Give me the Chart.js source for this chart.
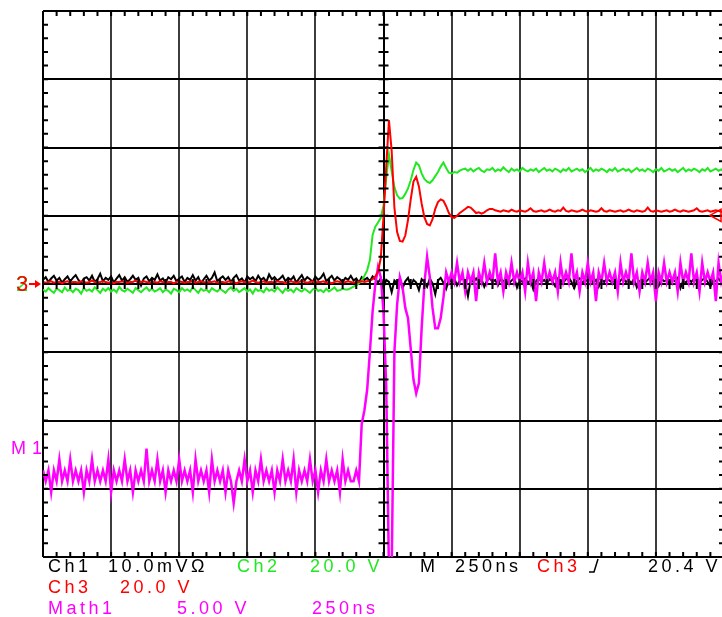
<!DOCTYPE html>
<html>
<head>
<meta charset="utf-8">
<script src="https://cdn.jsdelivr.net/npm/chart.js@4.4.1/dist/chart.umd.min.js"></script>
<style>
  html, body { margin: 0; padding: 0; background: #fff; overflow: hidden; }
  #wrap { position: relative; width: 722px; height: 617px; overflow: hidden; }
  canvas { display: block; }
  .lbl {
    position: absolute;
    font-family: "Liberation Sans", Arial, sans-serif;
    font-size: 18px;
    line-height: 18px;
    letter-spacing: 3.5px;
    white-space: pre;
  }
  .k { color: #000; }
  .g { color: #22e822; }
  .r { color: #ff0000; }
  .m { color: #ff00ff; }
</style>
</head>
<body>
<div id="wrap">
  <canvas id="scope" width="726" height="617"></canvas>

  <!-- channel ground markers -->
  <span class="lbl g" style="left:16px; top:273px; font-size:22px; line-height:22px;">2</span>
  <span class="lbl r" style="left:16px; top:273px; font-size:22px; line-height:22px;">3</span>
  <span class="lbl m" style="left:11px; top:439px; letter-spacing:6px;">M1</span>

  <!-- readout -->
  <span class="lbl k" style="left:48px; top:557px;">Ch1</span>
  <span class="lbl k" style="left:108px; top:557px;">10.0mVΩ</span>
  <span class="lbl g" style="left:237px; top:557px;">Ch2</span>
  <span class="lbl g" style="left:310px; top:557px;">20.0 V</span>
  <span class="lbl k" style="left:420px; top:557px;">M</span>
  <span class="lbl k" style="left:455px; top:557px;">250ns</span>
  <span class="lbl r" style="left:537px; top:557px;">Ch3</span>
  <span class="lbl k" id="trigLevel" style="left:648px; top:557px;"></span>

  <span class="lbl r" style="left:48px; top:578px;">Ch3</span>
  <span class="lbl r" style="left:120px; top:578px;">20.0 V</span>

  <span class="lbl m" style="left:48px; top:599px;">Math1</span>
  <span class="lbl m" style="left:177px; top:599px;">5.00 V</span>
  <span class="lbl m" style="left:312px; top:599px;">250ns</span>
</div>

<script>
// record: 10 ns per sample, 250 ns/div, 10 divisions across
const SAMPLE_NS = 10;
const NS_PER_DIV = 250;
const CH3_VOLTS_PER_DIV = 20.0;
const TRIGGER_LEVEL_V = 20.4;

// all traces in screen divisions (0 = centre line)
const ch1Div = [
  0.06, 0.10, 0.03, 0.08, 0.12, 0.05, 0.09, 0.02, 0.07, 0.11,
  0.04, 0.09, 0.13, 0.06, 0.01, 0.08, 0.10, 0.05, 0.12, 0.03,
  0.07, 0.15, 0.04, 0.09, 0.06, 0.11, 0.02, 0.08, 0.13, 0.05,
  0.10, 0.03, 0.07, 0.12, 0.06, 0.09, -0.02, 0.08, 0.11, 0.04,
  0.09, 0.06, 0.14, 0.05, 0.08, 0.02, 0.10, 0.07, 0.12, 0.04,
  0.08, 0.11, 0.03, 0.09, 0.06, 0.13, 0.05, 0.10, 0.01, 0.07,
  0.12, 0.05, 0.09, 0.17, 0.04, 0.08, 0.11, 0.06, 0.10, 0.03,
  0.09, 0.13, 0.05, 0.08, 0.02, 0.11, 0.07, 0.10, 0.04, 0.12,
  0.06, 0.09, 0.03, 0.14, 0.07, 0.10, 0.05, 0.08, 0.12, 0.04,
  0.09, 0.06, 0.11, 0.02, 0.08, 0.13, 0.05, 0.10, 0.07, 0.03,
  0.11, 0.06, 0.09, 0.15, 0.04, 0.08, 0.12, 0.05, 0.10, 0.07,
  0.03, 0.09, 0.06, 0.12, 0.05, 0.08, 0.02, 0.10, 0.06, 0.09,
  0.04, 0.11, 0.07, 0.02, 0.08, -0.05, 0.06, 0.03, -0.12, 0.05,
  0.01, 0.08, -0.06, 0.04, 0.09, -0.03, 0.06, 0.02, -0.09, 0.07,
  0.03, -0.04, 0.08, 0.01, -0.15, 0.05, 0.09, 0.02, -0.07, 0.06,
  0.03, 0.08, -0.02, 0.05, 0.10, 0.01, -0.18, 0.06, 0.03, 0.08,
  0.02, 0.07, -0.04, 0.05, 0.09, 0.03, 0.06, -0.02, 0.08, 0.04,
  0.07, 0.01, 0.05, 0.09, -0.05, 0.06, 0.03, 0.08, 0.02, 0.06,
  -0.08, 0.04, 0.09, 0.03, 0.06, 0.01, 0.07, 0.04, -0.03, 0.08,
  0.05, 0.02, 0.07, 0.10, 0.03, -0.06, 0.05, 0.08, 0.02, 0.06,
  0.04, 0.09, 0.01, 0.06, -0.04, 0.07, 0.03, 0.08, 0.05, 0.02,
  0.07, -0.02, 0.05, 0.09, 0.03, 0.06, 0.01, 0.08, -0.05, 0.04,
  0.07, 0.02, 0.06, 0.10, 0.03, 0.05, -0.03, 0.08, 0.04, 0.06,
  0.01, 0.07, 0.04, 0.09, -0.06, 0.05, 0.02, 0.07, 0.03, 0.08,
  0.05, 0.01, 0.06, 0.09, 0.03, -0.04, 0.07, 0.04, 0.08, 0.02, 0.05
];

const ch2Div = [
  -0.08, -0.11, -0.06, -0.10, -0.13, -0.07, -0.09, -0.12, -0.05, -0.10,
  -0.08, -0.12, -0.07, -0.09, -0.14, -0.06, -0.10, -0.08, -0.11, -0.05,
  -0.09, -0.13, -0.07, -0.10, -0.06, -0.11, -0.08, -0.12, -0.04, -0.09,
  -0.11, -0.07, -0.10, -0.13, -0.06, -0.09, -0.12, -0.08, -0.05, -0.10,
  -0.07, -0.11, -0.09, -0.06, -0.12, -0.08, -0.10, -0.14, -0.07, -0.09,
  -0.12, -0.06, -0.10, -0.08, -0.11, -0.05, -0.09, -0.13, -0.07, -0.10,
  -0.08, -0.12, -0.06, -0.09, -0.11, -0.07, -0.10, -0.13, -0.08, -0.05,
  -0.10, -0.07, -0.12, -0.09, -0.06, -0.11, -0.08, -0.14, -0.07, -0.10,
  -0.09, -0.12, -0.06, -0.10, -0.08, -0.11, -0.05, -0.09, -0.13, -0.07,
  -0.10, -0.08, -0.12, -0.06, -0.09, -0.11, -0.07, -0.10, -0.13, -0.08,
  -0.06, -0.10, -0.09, -0.12, -0.07, -0.11, -0.08, -0.05, -0.10, -0.09,
  -0.07, -0.08,
  -0.08, -0.06, -0.04, -0.02, 0.01, 0.05, 0.12, 0.20, 0.35, 0.72,
  0.84, 0.90, 0.97, 1.15, 1.55, 1.90, 1.65, 1.42, 1.30, 1.25,
  1.26, 1.32, 1.40, 1.52, 1.67, 1.78, 1.74, 1.62, 1.54, 1.50,
  1.48, 1.52, 1.58, 1.64, 1.72, 1.78, 1.70, 1.63, 1.62, 1.64,
  1.63, 1.66, 1.68, 1.69,
  1.66, 1.69, 1.65, 1.68, 1.70, 1.66, 1.64, 1.68, 1.67, 1.70,
  1.65, 1.68, 1.66, 1.71, 1.67, 1.64, 1.69, 1.66, 1.68, 1.65,
  1.70, 1.67, 1.65, 1.68, 1.66, 1.69, 1.64, 1.67, 1.70, 1.66,
  1.68, 1.65, 1.69, 1.67, 1.64, 1.68, 1.66, 1.70, 1.65, 1.67,
  1.69, 1.66, 1.68, 1.64, 1.67, 1.70, 1.65, 1.68, 1.66, 1.69,
  1.67, 1.64, 1.68, 1.66, 1.70, 1.65, 1.67, 1.69, 1.66, 1.68,
  1.64, 1.67, 1.70, 1.66, 1.68, 1.65, 1.69, 1.67, 1.64, 1.68,
  1.66, 1.70, 1.65, 1.67, 1.69, 1.66, 1.68, 1.64, 1.67, 1.70,
  1.65, 1.68, 1.66, 1.69, 1.67, 1.64, 1.68, 1.66, 1.70, 1.65,
  1.67, 1.69, 1.66, 1.68, 1.65
];

const ch3Div = [
  0.03, 0.02, 0.03, 0.04, 0.02, 0.03, 0.03, 0.01, 0.03, 0.04,
  0.02, 0.03, 0.03, 0.02, 0.04, 0.03, 0.02, 0.03, 0.05, 0.03,
  0.02, 0.03, 0.04, 0.03, 0.02, 0.03, 0.01, 0.03, 0.03, 0.04,
  0.03, 0.02, 0.03, 0.03, 0.05, 0.02, 0.03, 0.04, 0.03, 0.02,
  0.03, 0.03, 0.02, 0.04, 0.03, 0.02, 0.03, 0.03, 0.01, 0.03,
  0.04, 0.03, 0.02, 0.03, 0.03, 0.05, 0.02, 0.03, 0.04, 0.03,
  0.02, 0.03, 0.03, 0.04, 0.02, 0.03, 0.03, 0.02, 0.04, 0.03,
  0.03, 0.01, 0.03, 0.04, 0.03, 0.02, 0.03, 0.05, 0.03, 0.02,
  0.03, 0.04, 0.02, 0.03, 0.03, 0.02, 0.04, 0.03, 0.03, 0.01,
  0.03, 0.04, 0.03, 0.02, 0.03, 0.05, 0.03, 0.02, 0.03, 0.04,
  0.02, 0.03, 0.03, 0.04, 0.02, 0.03, 0.01, 0.03, 0.04, 0.03,
  0.02, 0.03, 0.04, 0.03, 0.02, 0.03, 0.03, 0.04, 0.03,
  0.04, 0.05, 0.07, 0.11, 0.18, 0.38, 0.98, 1.72, 2.40, 1.95,
  1.12, 0.76, 0.63, 0.62, 0.71, 0.94, 1.24, 1.50, 1.57, 1.43,
  1.18, 0.98, 0.88, 0.86, 0.95, 1.10, 1.20, 1.24, 1.22, 1.14,
  1.04, 0.98, 0.97, 1.00, 1.04, 1.07, 1.10, 1.13, 1.12, 1.08,
  1.04, 1.05, 1.03, 1.05, 1.08, 1.10, 1.10, 1.08,
  1.07, 1.06, 1.08, 1.07, 1.06, 1.09, 1.07, 1.06, 1.08, 1.07,
  1.06, 1.08, 1.11, 1.07, 1.06, 1.07, 1.08, 1.06, 1.07, 1.09,
  1.07, 1.06, 1.08, 1.07, 1.12, 1.07, 1.06, 1.08, 1.07, 1.06,
  1.07, 1.09, 1.07, 1.06, 1.08, 1.07, 1.06, 1.07, 1.11, 1.07,
  1.06, 1.08, 1.07, 1.06, 1.07, 1.08, 1.06, 1.07, 1.09, 1.07,
  1.06, 1.08, 1.07, 1.06, 1.07, 1.12, 1.07, 1.06, 1.08, 1.07,
  1.06, 1.07, 1.08, 1.06, 1.07, 1.09, 1.07, 1.06, 1.08, 1.07,
  1.06, 1.07, 1.08, 1.11, 1.07, 1.06, 1.07, 1.08, 1.06, 1.07,
  1.08, 1.07, 1.06, 1.07
];

const math1Div = [
  -2.73, -2.89, -2.73, -3.05, -2.73, -2.89, -2.57, -2.89, -2.73, -2.89,
  -2.57, -2.89, -2.73, -2.89, -2.73, -3.05, -2.73, -2.89, -2.57, -2.89,
  -2.73, -2.89, -2.73, -2.89, -2.57, -3.05, -2.73, -2.89, -2.73, -2.89,
  -2.57, -2.89, -2.73, -3.05, -2.73, -2.89, -2.73, -2.89, -2.41, -2.89,
  -2.73, -2.89, -2.57, -2.89, -2.73, -3.05, -2.73, -2.89, -2.73, -2.89,
  -2.57, -2.89, -2.73, -2.89, -2.73, -3.05, -2.57, -2.89, -2.73, -2.89,
  -2.73, -3.05, -2.57, -2.89, -2.73, -2.89, -2.73, -3.05, -2.73, -2.89,
  -3.21, -2.89, -2.73, -2.89, -2.57, -2.89, -2.73, -3.05, -2.73, -2.89,
  -2.57, -2.89, -2.73, -2.89, -2.73, -3.05, -2.73, -2.89, -2.57, -2.89,
  -2.73, -2.89, -2.57, -3.05, -2.73, -2.89, -2.73, -2.89, -2.57, -2.89,
  -2.73, -3.05, -2.73, -2.89, -2.57, -2.89, -2.73, -2.89, -2.73, -3.05,
  -2.57, -2.89, -2.73, -2.89,
  -2.89, -2.73, -2.89, -2.05, -1.85, -1.55, -1.00, -0.40, 0.00, 0.25,
  0.10, -0.40, -1.50, -4.20, -4.20, -1.00, -0.30, 0.10, -0.05, -0.35,
  -0.50, -0.95, -1.40, -1.60, -1.45, -0.65, 0.00, 0.40, 0.10, -0.35,
  -0.65, -0.65, -0.50, -0.20, 0.17, 0.03,
  0.17, 0.03, 0.31, 0.03, 0.17, -0.11, 0.17, 0.03, 0.17, -0.25,
  0.17, 0.03, 0.31, 0.03, 0.17, 0.03, 0.45, 0.03, 0.17, -0.11,
  0.17, 0.03, 0.31, 0.03, 0.17, 0.03, 0.17, -0.11, 0.31, 0.03,
  0.17, -0.25, 0.17, 0.03, 0.31, 0.03, 0.17, 0.03, 0.17, -0.11,
  0.31, 0.03, 0.17, 0.03, 0.45, 0.03, 0.17, -0.11, 0.17, 0.03,
  0.31, 0.03, 0.17, -0.25, 0.17, 0.03, 0.31, 0.03, 0.17, 0.03,
  0.17, -0.11, 0.31, 0.03, 0.17, 0.03, 0.45, 0.03, 0.17, -0.11,
  0.17, 0.03, 0.31, 0.03, 0.17, -0.25, 0.17, 0.03, 0.31, 0.03,
  0.17, 0.03, 0.17, -0.11, 0.31, 0.03, 0.17, 0.03, 0.45, 0.03,
  0.17, -0.11, 0.31, 0.03, 0.17, 0.03, 0.17, -0.25, 0.31, 0.03, 0.17
];

document.getElementById('trigLevel').textContent = TRIGGER_LEVEL_V.toFixed(1) + ' V';

function toPoints(values) {
  return values.map((v, i) => ({ x: i * SAMPLE_NS, y: v }));
}

const CENTER_NS = 5 * NS_PER_DIV;

// minor ticks on the border and centre cross, ground arrow and trigger marker
const graticuleMarks = {
  id: 'graticuleMarks',
  afterDraw(chart) {
    const { ctx, chartArea: a, scales: { x, y } } = chart;
    const xc = x.getPixelForValue(CENTER_NS);
    const yc = y.getPixelForValue(0);
    ctx.save();
    ctx.strokeStyle = '#000';
    ctx.lineWidth = 2;
    ctx.beginPath();
    for (let i = 0; i <= 50; i++) {
      const px = x.getPixelForValue(i * NS_PER_DIV / 5);
      ctx.moveTo(px, a.top); ctx.lineTo(px, a.top + 5);
      ctx.moveTo(px, a.bottom); ctx.lineTo(px, a.bottom - 5);
      ctx.moveTo(px, yc - 5); ctx.lineTo(px, yc + 5);
    }
    for (let i = -20; i <= 20; i++) {
      const py = y.getPixelForValue(i / 5);
      ctx.moveTo(a.left, py); ctx.lineTo(a.left + 5, py);
      ctx.moveTo(a.right, py); ctx.lineTo(a.right - 5, py);
      ctx.moveTo(xc - 5, py); ctx.lineTo(xc + 5, py);
    }
    ctx.stroke();

    // channel ground arrow
    ctx.strokeStyle = '#ff0000';
    ctx.fillStyle = '#ff0000';
    ctx.lineWidth = 2;
    ctx.beginPath();
    ctx.moveTo(29, yc); ctx.lineTo(37, yc);
    ctx.stroke();
    ctx.beginPath();
    ctx.moveTo(41, yc); ctx.lineTo(35, yc - 4); ctx.lineTo(35, yc + 4); ctx.closePath();
    ctx.fill();

    // trigger level marker
    const yt = y.getPixelForValue(TRIGGER_LEVEL_V / CH3_VOLTS_PER_DIV);
    ctx.lineWidth = 1.5;
    ctx.beginPath();
    ctx.moveTo(710, yt + 1); ctx.lineTo(721, yt - 5); ctx.lineTo(721, yt + 7); ctx.closePath();
    ctx.stroke();

    // trigger slope symbol
    ctx.strokeStyle = '#000';
    ctx.beginPath();
    ctx.moveTo(589, 572); ctx.lineTo(594, 572); ctx.lineTo(598, 559);
    ctx.stroke();
    ctx.restore();
  }
};

const trace = (data, color, width, order) => ({
  data: toPoints(data),
  borderColor: color,
  borderWidth: width,
  pointRadius: 0,
  tension: 0,
  fill: false,
  order: order
});

new Chart(document.getElementById('scope'), {
  type: 'line',
  data: {
    datasets: [
      trace(ch3Div, '#ff0000', 2, 0),
      trace(math1Div, '#ff00ff', 2.5, 1),
      trace(ch2Div, '#22e822', 2, 2),
      trace(ch1Div, '#000000', 2, 3)
    ]
  },
  options: {
    responsive: false,
    animation: false,
    layout: { padding: { left: 43, top: 11, right: 2, bottom: 60 } },
    plugins: { legend: { display: false }, tooltip: { enabled: false } },
    scales: {
      x: {
        type: 'linear',
        min: 0,
        max: 10 * NS_PER_DIV,
        z: 1,
        border: { display: false },
        ticks: { display: false, stepSize: NS_PER_DIV },
        grid: {
          drawTicks: false,
          lineWidth: 2,
          color: c => (c.tick.value === CENTER_NS || c.tick.value === 0) ? '#000' : '#3c3c3c'
        }
      },
      y: {
        min: -4,
        max: 4,
        z: 1,
        border: { display: false },
        ticks: { display: false, stepSize: 1 },
        grid: {
          drawTicks: false,
          lineWidth: 2,
          color: '#000'
        }
      }
    }
  },
  plugins: [graticuleMarks]
});
</script>
</body>
</html>
